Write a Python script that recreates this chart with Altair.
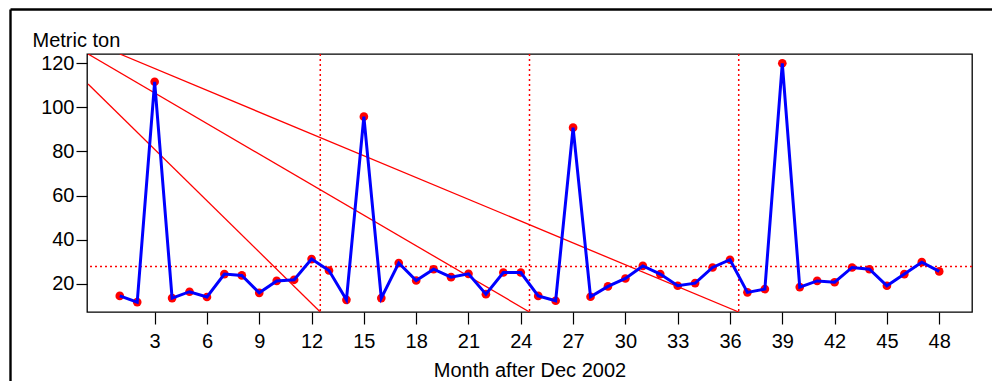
import altair as alt
import pandas as pd

# Monthly quantities (metric tons), months counted after Dec 2002
months = list(range(1, 49))
tons = [
    14.5, 11.7, 111.6, 13.5, 16.4, 14.0, 24.4, 23.8, 15.9, 21.3, 21.8, 31.2,
    26.0, 12.7, 95.8, 13.5, 29.4, 21.5, 26.6, 23.0, 24.5, 15.3, 25.1, 25.1,
    14.5, 12.3, 90.8, 14.1, 18.8, 22.4, 28.1, 24.4, 19.1, 20.3, 27.4, 30.9,
    16.1, 17.6, 120.0, 18.5, 21.3, 20.7, 27.4, 26.6, 19.1, 24.4, 29.8, 25.6,
]

# Reference levels
mean_level = 27.8
year_breaks = [12.5, 24.5, 36.5]

# Declining trend lines (start and end points in data units)
trend_x0 = [-0.82, -0.82, 1.0]
trend_y0 = [110.6, 124.2, 124.2]
trend_x1 = [12.5, 24.5, 36.5]
trend_y1 = [7.2, 7.2, 7.2]

x_ticks = list(range(3, 49, 3))
y_ticks = [20, 40, 60, 80, 100, 120]

x_domain = [-0.88, 49.88]
y_domain = [7.2, 124.2]

W, H = 885, 258
FONT = "Liberation Sans"

df = pd.DataFrame({"month": months, "tons": tons})
trends = pd.DataFrame({"x0": trend_x0, "y0": trend_y0, "x1": trend_x1, "y1": trend_y1})
breaks = pd.DataFrame({"x": year_breaks})
level = pd.DataFrame({"y": [mean_level]})

xs = alt.Scale(domain=x_domain, nice=False, zero=False)
ys = alt.Scale(domain=y_domain, nice=False, zero=False)

x_axis = alt.Axis(
    values=x_ticks, title="Month after Dec 2002", grid=False, domain=False,
    tickSize=12, tickColor="black", tickWidth=1.2, labelPadding=7,
    labelFont=FONT, labelFontSize=20, labelColor="black",
    titleFont=FONT, titleFontSize=20, titleFontWeight="normal", titleColor="black",
    titleBaseline="alphabetic", titleY=64, labelFlush=False,
)
y_axis = alt.Axis(
    values=y_ticks, title="Metric ton", grid=False, domain=False,
    tickSize=11, tickColor="black", tickWidth=1.2, labelPadding=2,
    labelFont=FONT, labelFontSize=20, labelColor="black",
    titleFont=FONT, titleFontSize=20, titleFontWeight="normal", titleColor="black",
    titleAngle=0, titleAlign="left", titleBaseline="alphabetic",
    titleX=-55, titleY=-8, labelFlush=False,
)

points = alt.Chart(df).mark_circle(color="red", size=75, opacity=1).encode(
    x=alt.X("month:Q", scale=xs, axis=x_axis),
    y=alt.Y("tons:Q", scale=ys, axis=y_axis),
)
series = alt.Chart(df).mark_line(color="#0000ff", strokeWidth=3).encode(
    x=alt.X("month:Q", scale=xs),
    y=alt.Y("tons:Q", scale=ys),
)
trend = alt.Chart(trends).mark_rule(color="red", strokeWidth=1.3, clip=True).encode(
    x=alt.X("x0:Q", scale=xs), y=alt.Y("y0:Q", scale=ys),
    x2="x1:Q", y2="y1:Q",
)
vlines = alt.Chart(breaks).mark_rule(color="red", strokeWidth=1.5, strokeDash=[2, 3]).encode(
    x=alt.X("x:Q", scale=xs),
)
hline = alt.Chart(level).mark_rule(color="red", strokeWidth=1.5, strokeDash=[2, 3]).encode(
    y=alt.Y("y:Q", scale=ys),
)

# Outer figure frame (left and top edges)
frame_df = pd.DataFrame({"k": [0]})
frame_left = alt.Chart(frame_df).mark_rule(color="black", strokeWidth=2.4, clip=False).encode(
    x=alt.value(-76.5), y=alt.value(-44.5), y2=alt.value(H + 80)
)
frame_top = alt.Chart(frame_df).mark_rule(color="black", strokeWidth=2.4, clip=False).encode(
    x=alt.value(-76.5), x2=alt.value(W + 30), y=alt.value(-44.5)
)

chart = alt.layer(
    frame_left, frame_top, trend, vlines, hline, points, series
).properties(
    width=W, height=H,
    autosize=alt.AutoSizeParams(type="none"),
    padding={"left": 87, "top": 54, "right": 992 - 87 - W, "bottom": 381 - 54 - H},
    background="white",
).configure_view(stroke="black", strokeWidth=1.3)

chart.save("out.html", embed_options={"renderer": "svg", "actions": False})
